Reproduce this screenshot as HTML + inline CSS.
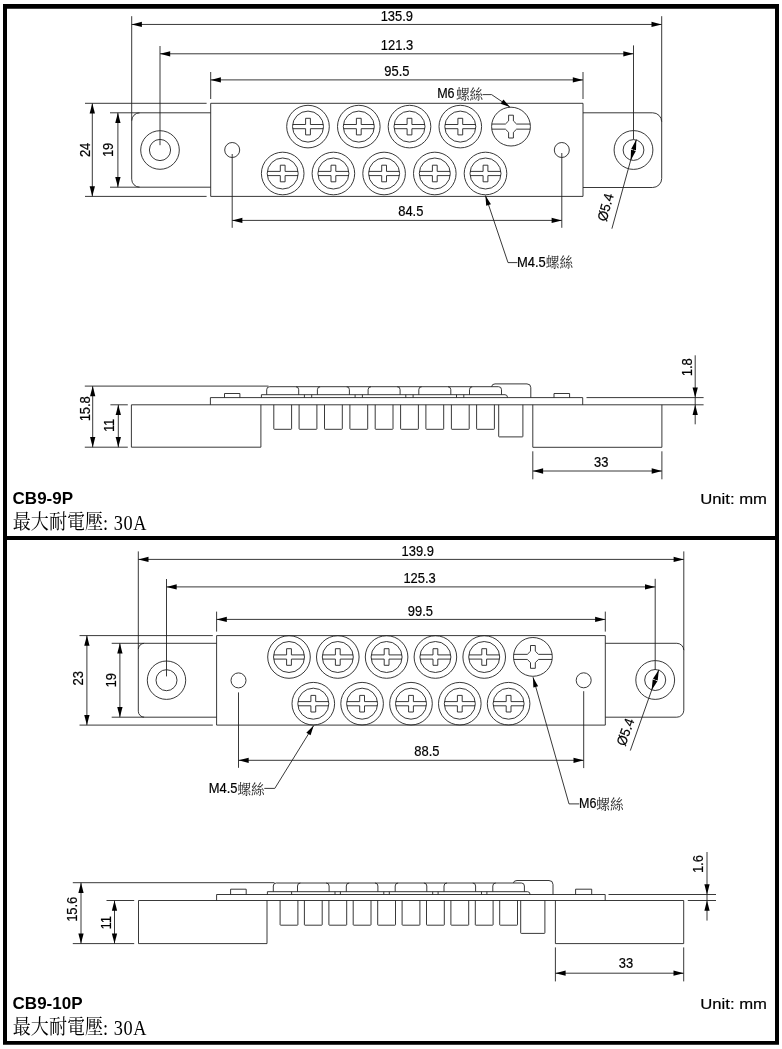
<!DOCTYPE html>
<html><head><meta charset="utf-8"><title>CB9 terminal block dimensions</title>
<style>
html,body{margin:0;padding:0;background:#fff;}
body{width:782px;height:1049px;overflow:hidden;font-family:"Liberation Sans",sans-serif;}
svg{display:block;position:absolute;left:0;top:0;will-change:transform;}
svg path,svg circle{fill:none;stroke:#222;stroke-width:0.9;}
svg path.a{fill:#000;stroke:none;}
svg .frame{fill:#000;stroke:none;}
svg text{font-family:"Liberation Sans",sans-serif;fill:#000;stroke:#000;stroke-width:0.2px;}
svg text.b{font-weight:bold;fill:#000;stroke:none;}
svg text.s{font-family:"Liberation Serif",serif;fill:#000;stroke:none;letter-spacing:0.6px;}
svg text.c{font-family:"Liberation Serif","Noto Serif CJK SC",serif;fill:#222;stroke:none;}
svg text.c2{font-family:"Liberation Serif","Noto Serif CJK SC",serif;fill:#000;stroke:none;}
</style></head><body>
<svg width="782" height="1049" viewBox="0 0 782 1049">
<path class="frame" fill-rule="evenodd" d="M3 4H779V1044.8H3ZM7 8.8V536H775V8.8ZM7 540V1041H775V540Z"/>
<path d="M131.7 16.2L131.7 120.8"/>
<path d="M661.7 16.2L661.7 121.8"/>
<path d="M131.7 24.45L661.7 24.45"/>
<path class="a" d="M131.7 24.45L141.9 21.8L141.9 27.1Z"/>
<path class="a" d="M661.7 24.45L651.5 27.1L651.5 21.8Z"/>
<path d="M160 46L160 145.2"/>
<path d="M633.5 45.4L633.5 139.4"/>
<path d="M160 53.8L633.5 53.8"/>
<path class="a" d="M160 53.8L170.2 51.15L170.2 56.45Z"/>
<path class="a" d="M633.5 53.8L623.3 56.45L623.3 51.15Z"/>
<path d="M210.7 72L210.7 99"/>
<path d="M583 72L583 99"/>
<path d="M210.7 79.9L583 79.9"/>
<path class="a" d="M210.7 79.9L220.9 77.25L220.9 82.55Z"/>
<path class="a" d="M583 79.9L572.8 82.55L572.8 77.25Z"/>
<text class="t" transform="translate(396.8 20.9) scale(0.93 1)" font-size="13.9" text-anchor="middle">135.9</text>
<text class="t" transform="translate(397 49.7) scale(0.93 1)" font-size="13.9" text-anchor="middle">121.3</text>
<text class="t" transform="translate(396.9 75.7) scale(0.93 1)" font-size="13.9" text-anchor="middle">95.5</text>
<path d="M210.7 103.3H583V196.4H210.7Z"/>
<path d="M85 103.3L206.6 103.3"/>
<path d="M85 196.4L206.6 196.4"/>
<path d="M210.7 112.8H139.7A8.0 8.0 0 0 0 131.7 120.8V179.2A8.0 8.0 0 0 0 139.7 187.2H210.7"/>
<path d="M110 112.8L139.7 112.8"/>
<path d="M110 187.2L139.7 187.2"/>
<path d="M583 112.8H652.7A9.0 9.0 0 0 1 661.7 121.8V178.5A9.0 9.0 0 0 1 652.7 187.5H583"/>
<path d="M92.3 103.3L92.3 196.4"/>
<path class="a" d="M92.3 103.3L94.95 113.5L89.65 113.5Z"/>
<path class="a" d="M92.3 196.4L89.65 186.2L94.95 186.2Z"/>
<path d="M117.9 112.8L117.9 187.2"/>
<path class="a" d="M117.9 112.8L120.55 123L115.25 123Z"/>
<path class="a" d="M117.9 187.2L115.25 177L120.55 177Z"/>
<text class="t" transform="translate(85 149.9) rotate(-90) scale(0.93 1)" x="0" y="4.7" font-size="13.9" text-anchor="middle">24</text>
<text class="t" transform="translate(108.6 149.9) rotate(-90) scale(0.93 1)" x="0" y="4.7" font-size="13.9" text-anchor="middle">19</text>
<circle cx="160" cy="150" r="19.3"/>
<circle cx="160" cy="150" r="10.6"/>
<circle cx="633.5" cy="150" r="19.4"/>
<circle cx="633.5" cy="150" r="10.4"/>
<circle cx="232.2" cy="150" r="7.5"/>
<circle cx="561.8" cy="150" r="7.5"/>
<path d="M232.2 154L232.2 227.8"/>
<path d="M561.8 153L561.8 227.8"/>
<path d="M232.2 220.4L561.8 220.4"/>
<path class="a" d="M232.2 220.4L242.4 217.75L242.4 223.05Z"/>
<path class="a" d="M561.8 220.4L551.6 223.05L551.6 217.75Z"/>
<text class="t" transform="translate(410.8 216.2) scale(0.93 1)" font-size="13.9" text-anchor="middle">84.5</text>
<circle cx="308" cy="126.6" r="21.3"/>
<circle cx="308" cy="126.6" r="15.5"/>
<path d="M292.64 124.5H305.6V118.3H310.4V124.5H323.36M292.64 128.7H305.6V134.9H310.4V128.7H323.36"/>
<circle cx="358.8" cy="126.6" r="21.3"/>
<circle cx="358.8" cy="126.6" r="15.5"/>
<path d="M343.44 124.5H356.4V118.3H361.2V124.5H374.16M343.44 128.7H356.4V134.9H361.2V128.7H374.16"/>
<circle cx="409.5" cy="126.6" r="21.3"/>
<circle cx="409.5" cy="126.6" r="15.5"/>
<path d="M394.14 124.5H407.1V118.3H411.9V124.5H424.86M394.14 128.7H407.1V134.9H411.9V128.7H424.86"/>
<circle cx="460.3" cy="126.6" r="21.3"/>
<circle cx="460.3" cy="126.6" r="15.5"/>
<path d="M444.94 124.5H457.9V118.3H462.7V124.5H475.66M444.94 128.7H457.9V134.9H462.7V128.7H475.66"/>
<circle cx="282.7" cy="173.5" r="21.3"/>
<circle cx="282.7" cy="173.5" r="15.5"/>
<path d="M267.34 171.4H280.3V165.2H285.1V171.4H298.06M267.34 175.6H280.3V181.8H285.1V175.6H298.06"/>
<circle cx="333.4" cy="173.5" r="21.3"/>
<circle cx="333.4" cy="173.5" r="15.5"/>
<path d="M318.04 171.4H331V165.2H335.8V171.4H348.76M318.04 175.6H331V181.8H335.8V175.6H348.76"/>
<circle cx="384.1" cy="173.5" r="21.3"/>
<circle cx="384.1" cy="173.5" r="15.5"/>
<path d="M368.74 171.4H381.7V165.2H386.5V171.4H399.46M368.74 175.6H381.7V181.8H386.5V175.6H399.46"/>
<circle cx="434.8" cy="173.5" r="21.3"/>
<circle cx="434.8" cy="173.5" r="15.5"/>
<path d="M419.44 171.4H432.4V165.2H437.2V171.4H450.16M419.44 175.6H432.4V181.8H437.2V175.6H450.16"/>
<circle cx="485.5" cy="173.5" r="21.3"/>
<circle cx="485.5" cy="173.5" r="15.5"/>
<path d="M470.14 171.4H483.1V165.2H487.9V171.4H500.86M470.14 175.6H483.1V181.8H487.9V175.6H500.86"/>
<circle cx="511" cy="126.6" r="19.4"/>
<path d="M491.77 124.05H505.4L508.6 120.9V115.2H513.4V120.9L516.6 124.05H530.23M491.77 129.15H505.4L508.6 132.3V138H513.4V132.3L516.6 129.15H530.23"/>
<text class="t" transform="translate(437.2 98.4) scale(0.9 1)" font-size="13.9" text-anchor="start">M6</text>
<text class="c" x="455.9" y="99.2" font-size="13.4" textLength="27.2" lengthAdjust="spacingAndGlyphs">螺絲</text>
<path d="M482.6 94.6H491.6L509.9 107"/>
<path class="a" d="M509.9 107L500.63 103.74L503.44 99.6Z"/>
<path d="M485.4 195.5L508 262.6H517.4"/>
<path class="a" d="M485.4 195.5L490.96 204.18L486.22 205.77Z"/>
<text class="t" transform="translate(517.1 266.6) scale(0.93 1)" font-size="13.9" text-anchor="start">M4.5</text>
<text class="c" x="545.8" y="267.3" font-size="13.4" textLength="27.2" lengthAdjust="spacingAndGlyphs">螺絲</text>
<path d="M636.33 139.58L611.9 228.7"/>
<path class="a" d="M636.33 139.58L635.99 150.37L631.17 149.06Z"/>
<path class="a" d="M630.67 160.42L631.01 149.63L635.83 150.94Z"/>
<text class="t" transform="translate(605.6 207.3) rotate(-74.81) scale(0.93 1)" x="0" y="4.7" font-size="13.9" text-anchor="middle">&#216;5.4</text>
<path d="M84.8 386.1L268.5 386.1"/>
<path d="M84.8 447.2L127.8 447.2"/>
<path d="M110.4 404.8L127.8 404.8"/>
<path d="M92.7 386.1L92.7 447.2"/>
<path class="a" d="M92.7 386.1L95.35 396.3L90.05 396.3Z"/>
<path class="a" d="M92.7 447.2L90.05 437L95.35 437Z"/>
<path d="M118.3 404.8L118.3 447.2"/>
<path class="a" d="M118.3 404.8L120.95 415L115.65 415Z"/>
<path class="a" d="M118.3 447.2L115.65 437L120.95 437Z"/>
<text class="t" transform="translate(85.4 408.8) rotate(-90) scale(0.93 1)" x="0" y="4.7" font-size="13.9" text-anchor="middle">15.8</text>
<text class="t" transform="translate(109.7 425.4) rotate(-90) scale(0.93 1)" x="0" y="4.7" font-size="13.9" text-anchor="middle">11</text>
<path d="M131.4 404.8V447.2H260.9V404.8"/>
<path d="M532.8 404.8V447.3H661.9V404.8"/>
<path d="M131.4 404.8L703.6 404.8"/>
<path d="M210.4 404.8V397.6H582.7V404.8"/>
<path d="M586.5 397.6L703.6 397.6"/>
<path d="M224.5 397.6V393.5H239.9V397.6"/>
<path d="M554 397.6V393.5H569.6V397.6"/>
<path d="M261.4 397.6V394.7H505Q507.4 394.7 507.6 397.6"/>
<path d="M304.4 394.7L304.4 397.6"/>
<path d="M311.7 394.7L311.7 397.6"/>
<path d="M355.1 394.7L355.1 397.6"/>
<path d="M362.4 394.7L362.4 397.6"/>
<path d="M405.8 394.7L405.8 397.6"/>
<path d="M413.1 394.7L413.1 397.6"/>
<path d="M456.5 394.7L456.5 397.6"/>
<path d="M463.8 394.7L463.8 397.6"/>
<path d="M266.7 394.7V389.7Q266.7 386.7 269.7 386.7H295.7Q298.7 386.7 298.7 389.7V394.7"/>
<path d="M317.4 394.7V389.7Q317.4 386.7 320.4 386.7H346.4Q349.4 386.7 349.4 389.7V394.7"/>
<path d="M368.1 394.7V389.7Q368.1 386.7 371.1 386.7H397.1Q400.1 386.7 400.1 389.7V394.7"/>
<path d="M418.8 394.7V389.7Q418.8 386.7 421.8 386.7H447.8Q450.8 386.7 450.8 389.7V394.7"/>
<path d="M469.5 394.7V389.7Q469.5 386.7 472.5 386.7H498.5Q501.5 386.7 501.5 389.7V394.7"/>
<path d="M295.7 386.7L320.4 386.7"/>
<path d="M346.4 386.7L371.1 386.7"/>
<path d="M397.1 386.7L421.8 386.7"/>
<path d="M447.8 386.7L472.5 386.7"/>
<path d="M491.6 386.70000000000005Q492 383.9 495 383.9H527Q530.8 383.9 530.8 387.7V397.6"/>
<path d="M299.1 404.8V428.7Q299.1 429.3 299.7 429.3H316.3Q316.9 429.3 316.9 428.7V404.8"/>
<path d="M349.9 404.8V428.7Q349.9 429.3 350.5 429.3H367.1Q367.7 429.3 367.7 428.7V404.8"/>
<path d="M400.6 404.8V428.7Q400.6 429.3 401.2 429.3H417.8Q418.4 429.3 418.4 428.7V404.8"/>
<path d="M451.4 404.8V428.7Q451.4 429.3 452 429.3H468.6Q469.2 429.3 469.2 428.7V404.8"/>
<path d="M273.8 404.8V428.7Q273.8 429.3 274.4 429.3H291Q291.6 429.3 291.6 428.7V404.8"/>
<path d="M324.5 404.8V428.7Q324.5 429.3 325.1 429.3H341.7Q342.3 429.3 342.3 428.7V404.8"/>
<path d="M375.2 404.8V428.7Q375.2 429.3 375.8 429.3H392.4Q393 429.3 393 428.7V404.8"/>
<path d="M425.9 404.8V428.7Q425.9 429.3 426.5 429.3H443.1Q443.7 429.3 443.7 428.7V404.8"/>
<path d="M476.6 404.8V428.7Q476.6 429.3 477.2 429.3H493.8Q494.4 429.3 494.4 428.7V404.8"/>
<path d="M498.7 404.8V436.3Q498.7 436.9 499.3 436.9H522.3Q522.9 436.9 522.9 436.3V404.8"/>
<path d="M695.2 355.3L695.2 424.3"/>
<path class="a" d="M695.2 397.6L692.55 387.4L697.85 387.4Z"/>
<path class="a" d="M695.2 404.8L697.85 415L692.55 415Z"/>
<text class="t" transform="translate(686.8 367.3) rotate(-90) scale(0.93 1)" x="0" y="4.7" font-size="13.9" text-anchor="middle">1.8</text>
<path d="M532.8 451.3L532.8 479.3"/>
<path d="M661.9 451.3L661.9 479.3"/>
<path d="M532.9 471L661.9 471"/>
<path class="a" d="M532.9 471L543.1 468.35L543.1 473.65Z"/>
<path class="a" d="M661.9 471L651.7 473.65L651.7 468.35Z"/>
<text class="t" transform="translate(601.2 466.5) scale(0.93 1)" font-size="13.9" text-anchor="middle">33</text>
<text class="b" x="12.6" y="503.8" font-size="17" text-anchor="start">CB9-9P</text>
<text class="u" x="767" y="503.5" font-size="15.4" text-anchor="end" textLength="66.7" lengthAdjust="spacingAndGlyphs">Unit: mm</text>
<text class="c2" transform="translate(12.8 529.2) scale(1 1.156)" x="0" y="0" font-size="17.9" textLength="90.3" lengthAdjust="spacingAndGlyphs">最大耐電壓</text>
<text class="s" transform="translate(103 530.3) scale(1 1.18)" x="0" y="0" font-size="18.3">: 30A</text>
<path d="M138.3 551.4L138.3 649.3"/>
<path d="M683.8 551.4L683.8 650.3"/>
<path d="M138.3 559.4L683.8 559.4"/>
<path class="a" d="M138.3 559.4L148.5 556.75L148.5 562.05Z"/>
<path class="a" d="M683.8 559.4L673.6 562.05L673.6 556.75Z"/>
<path d="M166.5 579L166.5 676.4"/>
<path d="M655.2 578.8L655.2 670"/>
<path d="M166.5 586.9L655.2 586.9"/>
<path class="a" d="M166.5 586.9L176.7 584.25L176.7 589.55Z"/>
<path class="a" d="M655.2 586.9L645 589.55L645 584.25Z"/>
<path d="M216.6 611.6L216.6 631.6"/>
<path d="M605.3 611.6L605.3 631.6"/>
<path d="M216.6 619.4L605.3 619.4"/>
<path class="a" d="M216.6 619.4L226.8 616.75L226.8 622.05Z"/>
<path class="a" d="M605.3 619.4L595.1 622.05L595.1 616.75Z"/>
<text class="t" transform="translate(417.7 555.6) scale(0.93 1)" font-size="13.9" text-anchor="middle">139.9</text>
<text class="t" transform="translate(419.6 582.5) scale(0.93 1)" font-size="13.9" text-anchor="middle">125.3</text>
<text class="t" transform="translate(420.4 615.7) scale(0.93 1)" font-size="13.9" text-anchor="middle">99.5</text>
<path d="M216.6 635.6H605.3V725.1H216.6Z"/>
<path d="M79.5 635.6L212.8 635.6"/>
<path d="M79.5 725.1L212.8 725.1"/>
<path d="M216.6 643.3H144.3A6.0 6.0 0 0 0 138.3 649.3V711.2A6.0 6.0 0 0 0 144.3 717.2H216.6"/>
<path d="M111.7 643.3L144.3 643.3"/>
<path d="M111.7 717.2L144.3 717.2"/>
<path d="M605.3 643.3H676.8A7.0 7.0 0 0 1 683.8 650.3V710.2A7.0 7.0 0 0 1 676.8 717.2H605.3"/>
<path d="M86.9 635.6L86.9 725.1"/>
<path class="a" d="M86.9 635.6L89.55 645.8L84.25 645.8Z"/>
<path class="a" d="M86.9 725.1L84.25 714.9L89.55 714.9Z"/>
<path d="M119.9 643.3L119.9 717.2"/>
<path class="a" d="M119.9 643.3L122.55 653.5L117.25 653.5Z"/>
<path class="a" d="M119.9 717.2L117.25 707L122.55 707Z"/>
<text class="t" transform="translate(78.6 678.3) rotate(-90) scale(0.93 1)" x="0" y="4.7" font-size="13.9" text-anchor="middle">23</text>
<text class="t" transform="translate(110.9 680.2) rotate(-90) scale(0.93 1)" x="0" y="4.7" font-size="13.9" text-anchor="middle">19</text>
<circle cx="166.5" cy="680.2" r="19.2"/>
<circle cx="166.5" cy="680.2" r="10.5"/>
<circle cx="655.2" cy="680" r="19.4"/>
<circle cx="655.2" cy="680" r="10.5"/>
<circle cx="238.5" cy="680.4" r="7.5"/>
<circle cx="583.7" cy="680.3" r="7.5"/>
<path d="M238.5 692.4L238.5 767.8"/>
<path d="M583.7 691.2L583.7 768.1"/>
<path d="M238.5 760.3L583.7 760.3"/>
<path class="a" d="M238.5 760.3L248.7 757.65L248.7 762.95Z"/>
<path class="a" d="M583.7 760.3L573.5 762.95L573.5 757.65Z"/>
<text class="t" transform="translate(426.9 755.7) scale(0.93 1)" font-size="13.9" text-anchor="middle">88.5</text>
<circle cx="289" cy="657" r="21.3"/>
<circle cx="289" cy="657" r="15.5"/>
<path d="M273.64 654.9H286.6V648.7H291.4V654.9H304.36M273.64 659.1H286.6V665.3H291.4V659.1H304.36"/>
<circle cx="337.8" cy="657" r="21.3"/>
<circle cx="337.8" cy="657" r="15.5"/>
<path d="M322.44 654.9H335.4V648.7H340.2V654.9H353.16M322.44 659.1H335.4V665.3H340.2V659.1H353.16"/>
<circle cx="386.6" cy="657" r="21.3"/>
<circle cx="386.6" cy="657" r="15.5"/>
<path d="M371.24 654.9H384.2V648.7H389V654.9H401.96M371.24 659.1H384.2V665.3H389V659.1H401.96"/>
<circle cx="435.4" cy="657" r="21.3"/>
<circle cx="435.4" cy="657" r="15.5"/>
<path d="M420.04 654.9H433V648.7H437.8V654.9H450.76M420.04 659.1H433V665.3H437.8V659.1H450.76"/>
<circle cx="484.2" cy="657" r="21.3"/>
<circle cx="484.2" cy="657" r="15.5"/>
<path d="M468.84 654.9H481.8V648.7H486.6V654.9H499.56M468.84 659.1H481.8V665.3H486.6V659.1H499.56"/>
<circle cx="313.3" cy="703.7" r="21.3"/>
<circle cx="313.3" cy="703.7" r="15.5"/>
<path d="M297.94 701.6H310.9V695.4H315.7V701.6H328.66M297.94 705.8H310.9V712H315.7V705.8H328.66"/>
<circle cx="362.1" cy="703.7" r="21.3"/>
<circle cx="362.1" cy="703.7" r="15.5"/>
<path d="M346.74 701.6H359.7V695.4H364.5V701.6H377.46M346.74 705.8H359.7V712H364.5V705.8H377.46"/>
<circle cx="411" cy="703.7" r="21.3"/>
<circle cx="411" cy="703.7" r="15.5"/>
<path d="M395.64 701.6H408.6V695.4H413.4V701.6H426.36M395.64 705.8H408.6V712H413.4V705.8H426.36"/>
<circle cx="459.8" cy="703.7" r="21.3"/>
<circle cx="459.8" cy="703.7" r="15.5"/>
<path d="M444.44 701.6H457.4V695.4H462.2V701.6H475.16M444.44 705.8H457.4V712H462.2V705.8H475.16"/>
<circle cx="508.6" cy="703.7" r="21.3"/>
<circle cx="508.6" cy="703.7" r="15.5"/>
<path d="M493.24 701.6H506.2V695.4H511V701.6H523.96M493.24 705.8H506.2V712H511V705.8H523.96"/>
<circle cx="532.9" cy="656.9" r="19.4"/>
<path d="M513.67 654.35H527.3L530.5 651.2V645.5H535.3V651.2L538.5 654.35H552.13M513.67 659.45H527.3L530.5 662.6V668.3H535.3V662.6L538.5 659.45H552.13"/>
<path d="M313.7 725.5L274.8 788.4H264.3"/>
<path class="a" d="M313.7 725.5L310.57 735.32L306.31 732.69Z"/>
<text class="t" transform="translate(208.8 792.7) scale(0.93 1)" font-size="13.9" text-anchor="start">M4.5</text>
<text class="c" x="237.4" y="793.5" font-size="13.4" textLength="27.2" lengthAdjust="spacingAndGlyphs">螺絲</text>
<path d="M533 677.2L569 803.9H579.3"/>
<path class="a" d="M533 677.2L538.14 686.14L533.33 687.5Z"/>
<text class="t" transform="translate(579 807.7) scale(0.9 1)" font-size="13.9" text-anchor="start">M6</text>
<text class="c" x="596.3" y="808.6" font-size="13.4" textLength="27.2" lengthAdjust="spacingAndGlyphs">螺絲</text>
<path d="M658.83 669.72L630.3 750.6"/>
<path class="a" d="M658.83 669.72L657.69 680.45L652.98 678.79Z"/>
<path class="a" d="M651.57 690.28L652.71 679.55L657.42 681.21Z"/>
<text class="t" transform="translate(625.5 732) rotate(-70.55) scale(0.93 1)" x="0" y="4.7" font-size="13.9" text-anchor="middle">&#216;5.4</text>
<path d="M72.8 882.7L274.5 882.7"/>
<path d="M72.8 943.6L134.2 943.6"/>
<path d="M106.5 900.5L134.2 900.5"/>
<path d="M81 882.7L81 943.6"/>
<path class="a" d="M81 882.7L83.65 892.9L78.35 892.9Z"/>
<path class="a" d="M81 943.6L78.35 933.4L83.65 933.4Z"/>
<path d="M114.5 900.5L114.5 943.6"/>
<path class="a" d="M114.5 900.5L117.15 910.7L111.85 910.7Z"/>
<path class="a" d="M114.5 943.6L111.85 933.4L117.15 933.4Z"/>
<text class="t" transform="translate(72.2 909.3) rotate(-90) scale(0.93 1)" x="0" y="4.7" font-size="13.9" text-anchor="middle">15.6</text>
<text class="t" transform="translate(106.3 922.8) rotate(-90) scale(0.93 1)" x="0" y="4.7" font-size="13.9" text-anchor="middle">11</text>
<path d="M138.5 900.5V943.6H267V900.5"/>
<path d="M555.4 900.5V943.6H683.7V900.5"/>
<path d="M138.5 900.5L683.7 900.5"/>
<path d="M687.8 900.5L716 900.5"/>
<path d="M216.6 900.5V894.5H605.2V900.5"/>
<path d="M608.5 894.5L716 894.5"/>
<path d="M230.6 894.5V889.2H246.2V894.5"/>
<path d="M575.6 894.5V889.2H591.7V894.5"/>
<path d="M267.4 894.5V891.7H527.6Q529.9 891.7 530.1 894.5"/>
<path d="M291.6 891.7L291.6 894.5"/>
<path d="M335 891.7L335 894.5"/>
<path d="M340.4 891.7L340.4 894.5"/>
<path d="M383.8 891.7L383.8 894.5"/>
<path d="M389.3 891.7L389.3 894.5"/>
<path d="M432.7 891.7L432.7 894.5"/>
<path d="M438.1 891.7L438.1 894.5"/>
<path d="M481.5 891.7L481.5 894.5"/>
<path d="M486.9 891.7L486.9 894.5"/>
<path d="M297.5 891.7V886Q297.5 883 300.5 883H326.1Q329.1 883 329.1 886V891.7"/>
<path d="M346.3 891.7V886Q346.3 883 349.3 883H374.9Q377.9 883 377.9 886V891.7"/>
<path d="M395.2 891.7V886Q395.2 883 398.2 883H423.8Q426.8 883 426.8 886V891.7"/>
<path d="M444 891.7V886Q444 883 447 883H472.6Q475.6 883 475.6 886V891.7"/>
<path d="M492.8 891.7V886Q492.8 883 495.8 883H521.4Q524.4 883 524.4 886V891.7"/>
<path d="M273.3 891.7V886.0Q273.3 883.0 276.3 883.0H300.5"/>
<path d="M326.1 883L349.3 883"/>
<path d="M374.9 883L398.2 883"/>
<path d="M423.8 883L447 883"/>
<path d="M472.6 883L495.8 883"/>
<path d="M513.4 883.0Q513.8 880.5 517 880.5H549Q553 880.5 553 884.5V894.5"/>
<path d="M280.1 900.5V924.6Q280.1 925.2 280.7 925.2H297.3Q297.9 925.2 297.9 924.6V900.5"/>
<path d="M328.9 900.5V924.6Q328.9 925.2 329.5 925.2H346.1Q346.7 925.2 346.7 924.6V900.5"/>
<path d="M377.7 900.5V924.6Q377.7 925.2 378.3 925.2H394.9Q395.5 925.2 395.5 924.6V900.5"/>
<path d="M426.5 900.5V924.6Q426.5 925.2 427.1 925.2H443.7Q444.3 925.2 444.3 924.6V900.5"/>
<path d="M475.3 900.5V924.6Q475.3 925.2 475.9 925.2H492.5Q493.1 925.2 493.1 924.6V900.5"/>
<path d="M304.4 900.5V924.6Q304.4 925.2 305 925.2H321.6Q322.2 925.2 322.2 924.6V900.5"/>
<path d="M353.2 900.5V924.6Q353.2 925.2 353.8 925.2H370.4Q371 925.2 371 924.6V900.5"/>
<path d="M402.1 900.5V924.6Q402.1 925.2 402.7 925.2H419.3Q419.9 925.2 419.9 924.6V900.5"/>
<path d="M450.9 900.5V924.6Q450.9 925.2 451.5 925.2H468.1Q468.7 925.2 468.7 924.6V900.5"/>
<path d="M499.7 900.5V924.6Q499.7 925.2 500.3 925.2H516.9Q517.5 925.2 517.5 924.6V900.5"/>
<path d="M520.7 900.5V932.8Q520.7 933.4 521.3 933.4H544.3Q544.9 933.4 544.9 932.8V900.5"/>
<path d="M707 852L707 920.6"/>
<path class="a" d="M707 894.5L704.35 884.3L709.65 884.3Z"/>
<path class="a" d="M707 900.5L709.65 910.7L704.35 910.7Z"/>
<text class="t" transform="translate(698.4 864.1) rotate(-90) scale(0.93 1)" x="0" y="4.7" font-size="13.9" text-anchor="middle">1.6</text>
<path d="M555.4 947.4L555.4 981.4"/>
<path d="M683.7 947.4L683.7 981.4"/>
<path d="M555.4 973.2L683.7 973.2"/>
<path class="a" d="M555.4 973.2L565.6 970.55L565.6 975.85Z"/>
<path class="a" d="M683.7 973.2L673.5 975.85L673.5 970.55Z"/>
<text class="t" transform="translate(626 968.4) scale(0.93 1)" font-size="13.9" text-anchor="middle">33</text>
<text class="b" x="12.6" y="1008.8" font-size="17" text-anchor="start">CB9-10P</text>
<text class="u" x="767" y="1008.5" font-size="15.4" text-anchor="end" textLength="66.7" lengthAdjust="spacingAndGlyphs">Unit: mm</text>
<text class="c2" transform="translate(12.8 1034.2) scale(1 1.156)" x="0" y="0" font-size="17.9" textLength="90.3" lengthAdjust="spacingAndGlyphs">最大耐電壓</text>
<text class="s" transform="translate(103 1035.3) scale(1 1.18)" x="0" y="0" font-size="18.3">: 30A</text>
</svg>
</body></html>
